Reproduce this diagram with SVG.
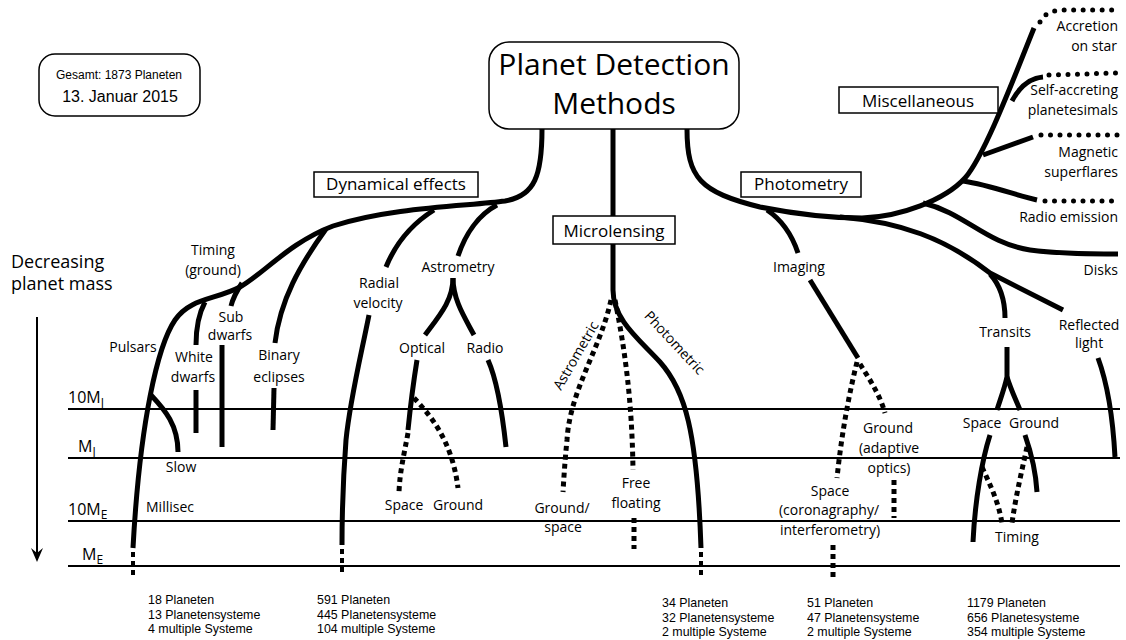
<svg xmlns="http://www.w3.org/2000/svg" width="1126" height="640" viewBox="0 0 1126 640">
<style>
  .br{fill:none;stroke:#000;stroke-width:5;stroke-linecap:butt}
  .sq{fill:none;stroke:#000;stroke-width:5;stroke-dasharray:5 4}
  .sm{fill:none;stroke:#000;stroke-width:4;stroke-dasharray:5 4}
  .rd{fill:none;stroke:#000;stroke-width:5;stroke-linecap:round;stroke-dasharray:0 9.5}
  .hl{stroke:#000;stroke-width:2}
  text{font-family:"Open Sans","Noto Sans",sans-serif;fill:#000}
  .l{font-size:14px;text-anchor:middle}
  .r{font-size:14px;text-anchor:end}
  .bx{font-size:17px;text-anchor:middle}
  .ax{font-size:16px}
  .ct{font-family:"Liberation Sans",Arial,sans-serif;font-size:12.4px}
  .box{fill:#fff;stroke:#000;stroke-width:1.5}
</style>
<rect width="1126" height="640" fill="#fff"/>

<g id="axes">
  <line class="hl" x1="68" y1="409" x2="1120" y2="409"/>
  <line class="hl" x1="68" y1="458" x2="1120" y2="458"/>
  <line class="hl" x1="68" y1="521" x2="1120" y2="521"/>
  <line class="hl" x1="68" y1="566" x2="1120" y2="566"/>
  <line x1="37" y1="317" x2="37" y2="556" stroke="#000" stroke-width="2"/>
  <path d="M31,548 L37,562 L43,548 L37,553 Z" fill="#000"/>
  <text class="ax" x="11" y="268" style="font-size:18px">Decreasing</text>
  <text class="ax" x="11" y="290" style="font-size:18px">planet mass</text>
  <text class="ax" x="68" y="403">10M<tspan dy="4" font-size="12">J</tspan></text>
  <text class="ax" x="78" y="452">M<tspan dy="4" font-size="12">J</tspan></text>
  <text class="ax" x="68" y="515">10M<tspan dy="4" font-size="12">E</tspan></text>
  <text class="ax" x="82" y="560">M<tspan dy="4" font-size="12">E</tspan></text>
</g>

<g id="connectors">
  <!-- Dynamical effects -->
  <path class="br" d="M542,129 C542,175 535,196 505,201 C470,206 390,207 333,226 C290,242 262,275 240,287 C215,300 190,298 175,320 C158,345 140,420 133,548"/>
  <path class="sm" d="M133,552 L133,579"/>
  <path class="br" d="M151,395 C165,410 178,425 178,452"/>
  <path class="br" d="M205,302 C198,315 196,328 196,345"/>
  <path class="br" d="M196,390 L196,433"/>
  <path class="br" d="M242,283 C236,292 233,298 231,306"/>
  <path class="br" d="M222,345 L222,447"/>
  <path class="br" d="M326,229 C300,265 280,300 275,343"/>
  <path class="br" d="M274,388 L273,430"/>
  <path class="br" d="M434,210 C410,225 395,245 386,267"/>
  <path class="br" d="M369,315 C360,360 350,400 346,440 C343,480 342,510 342,545"/>
  <path class="sm" d="M342,549 L342,573"/>
  <path class="br" d="M497,205 C478,215 465,235 458,256"/>
  <path class="br" d="M453,278 C453,300 440,315 425,335"/>
  <path class="br" d="M453,278 C453,300 465,318 474,335"/>
  <path class="br" d="M417,360 C413,385 410,410 408,430"/>
  <path class="sq" d="M408,433 C404,455 400,470 399,492"/>
  <path class="sq" d="M414,398 C430,415 452,440 458,488"/>
  <path class="br" d="M488,360 C497,380 502,410 506,447"/>
  <!-- Microlensing -->
  <path class="br" d="M613,129 L613,216"/>
  <path class="br" d="M613,244 L613,290 C613,320 640,340 660,362 C685,390 697,430 701,548"/>
  <path class="sm" d="M701,552 L701,579"/>
  <path class="sq" d="M611,300 C600,350 570,390 567,440 C565,460 564,475 563,492"/>
  <path class="sq" d="M615,300 C625,350 632,400 633,470"/>
  <path class="sq" d="M634,518 L634,549"/>
  <!-- Photometry -->
  <path class="br" d="M687,129 C687,178 700,192 760,207 C800,215 830,218 862,218 C900,217 945,200 965,178 C985,155 1015,75 1034,28"/>
  <path class="rd" d="M1040,22 Q1045,11 1062,10 L1118,10"/>
  <path class="br" d="M1012,101 C1020,86 1030,78 1043,77"/>
  <path class="rd" d="M1049,75 L1118,73"/>
  <path class="br" d="M983,155 L1033,137"/>
  <path class="rd" d="M1041,135 L1118,135"/>
  <path class="br" d="M963,181 C990,185 1015,195 1037,200"/>
  <path class="rd" d="M1045,201 L1118,201"/>
  <path class="br" d="M923,203 C965,213 985,243 1030,250 C1060,254 1090,254 1118,254"/>
  <path class="br" d="M840,217 C900,222 945,238 990,273 L1063,310"/>
  <path class="br" d="M990,274 C1000,285 1005,300 1005,318"/>
  <path class="br" d="M767,210 C785,222 793,238 798,253"/>
  <path class="br" d="M810,280 L858,358"/>
  <path class="sq" d="M857,362 C850,390 842,430 837,478"/>
  <path class="sq" d="M860,364 C870,380 880,395 885,413"/>
  <path class="sq" d="M894,480 L894,518"/>
  <path class="sq" d="M833,545 L833,577"/>
  <path class="br" d="M1007,347 L1007,377 C1004,390 1000,400 997,410"/>
  <path class="br" d="M1007,377 C1011,390 1016,400 1020,410"/>
  <path class="br" d="M990,435 C982,460 975,500 973,542"/>
  <path class="br" d="M1025,435 C1032,455 1036,475 1037,492"/>
  <path class="sq" d="M982,467 C990,485 998,500 1002,523"/>
  <path class="sq" d="M1027,447 C1022,470 1016,495 1012,523"/>
  <path class="br" d="M1098,358 C1108,385 1113,420 1115,457"/>
</g>

<g id="gesamt">
  <rect class="box" x="39" y="54" width="161" height="62" rx="16"/>
  <text x="119" y="79" text-anchor="middle" style="font-family:'Liberation Sans',Arial,sans-serif;font-size:12px">Gesamt: 1873 Planeten</text>
  <text x="120" y="102" text-anchor="middle" style="font-family:'Liberation Sans',Arial,sans-serif;font-size:16px">13. Januar 2015</text>
</g>
<g id="title">
  <rect class="box" x="489" y="42" width="250" height="87" rx="20"/>
  <text x="614" y="75" text-anchor="middle" style="font-size:30px">Planet Detection</text>
  <text x="614" y="114" text-anchor="middle" style="font-size:30px">Methods</text>
</g>
<g id="dynamical">
  <rect class="box" x="314" y="172" width="164" height="25"/>
  <text class="bx" x="396" y="190">Dynamical effects</text>
</g>
<g id="microlensing">
  <rect class="box" x="553" y="216" width="122" height="28"/>
  <text class="bx" x="614" y="237">Microlensing</text>
</g>
<g id="photometry">
  <rect class="box" x="741" y="172" width="120" height="25"/>
  <text class="bx" x="801" y="190">Photometry</text>
</g>
<g id="misc">
  <rect class="box" x="839" y="87" width="159" height="26"/>
  <text class="bx" x="918" y="107">Miscellaneous</text>
</g>

<g id="timing"><text class="l" x="213" y="255">Timing</text><text class="l" x="213" y="275">(ground)</text></g>
<g id="pulsars"><text class="l" x="133" y="352">Pulsars</text></g>
<g id="white"><text class="l" x="194" y="362">White</text><text class="l" x="193" y="382">dwarfs</text></g>
<g id="sub"><text class="l" x="231" y="322">Sub</text><text class="l" x="230" y="340">dwarfs</text></g>
<g id="binary"><text class="l" x="279" y="360">Binary</text><text class="l" x="279" y="382">eclipses</text></g>
<g id="slow"><text class="l" x="181" y="472">Slow</text></g>
<g id="millisec"><text class="l" x="170" y="512">Millisec</text></g>
<g id="radial"><text class="l" x="379" y="288">Radial</text><text class="l" x="378" y="308">velocity</text></g>
<g id="astrometry"><text class="l" x="458" y="272">Astrometry</text></g>
<g id="optical"><text class="l" x="422" y="353">Optical</text></g>
<g id="radio"><text class="l" x="485" y="353">Radio</text></g>
<g id="astro-space"><text class="l" x="404" y="510">Space</text></g>
<g id="astro-ground"><text class="l" x="458" y="510">Ground</text></g>
<g id="astrometric"><text class="l" x="580" y="358" transform="rotate(-60 580 358)">Astrometric</text></g>
<g id="photometric"><text class="l" x="671" y="346" transform="rotate(47 671 346)">Photometric</text></g>
<g id="groundspace"><text class="l" x="562" y="513">Ground/</text><text class="l" x="563" y="532">space</text></g>
<g id="free"><text class="l" x="636" y="488">Free</text><text class="l" x="636" y="508">floating</text></g>
<g id="imaging"><text class="l" x="799" y="272">Imaging</text></g>
<g id="img-ground"><text class="l" x="888" y="433">Ground</text><text class="l" x="889" y="453">(adaptive</text><text class="l" x="889" y="473">optics)</text></g>
<g id="img-space"><text class="l" x="830" y="496">Space</text><text class="l" x="829" y="515">(coronagraphy/</text><text class="l" x="830" y="535">interferometry)</text></g>
<g id="transits"><text class="l" x="1005" y="337">Transits</text></g>
<g id="tr-space"><text class="l" x="982" y="428">Space</text></g>
<g id="tr-ground"><text class="l" x="1034" y="428">Ground</text></g>
<g id="tr-timing"><text class="l" x="1017" y="542">Timing</text></g>
<g id="reflected"><text class="l" x="1089" y="330">Reflected</text><text class="l" x="1089" y="348">light</text></g>
<g id="disks"><text class="r" x="1118" y="275">Disks</text></g>
<g id="accretion"><text class="r" x="1118" y="31">Accretion</text><text class="r" x="1117" y="51">on star</text></g>
<g id="selfacc"><text class="r" x="1118" y="95">Self-accreting</text><text class="r" x="1118" y="115">planetesimals</text></g>
<g id="magnetic"><text class="r" x="1118" y="157">Magnetic</text><text class="r" x="1118" y="177">superflares</text></g>
<g id="radioem"><text class="r" x="1118" y="222">Radio emission</text></g>

<g id="counts">
  <text class="ct" x="148" y="604">18 Planeten</text>
  <text class="ct" x="148" y="619">13 Planetensysteme</text>
  <text class="ct" x="148" y="633">4 multiple Systeme</text>
  <text class="ct" x="317" y="604">591 Planeten</text>
  <text class="ct" x="317" y="619">445 Planetensysteme</text>
  <text class="ct" x="317" y="633">104 multiple Systeme</text>
  <text class="ct" x="662" y="607">34 Planeten</text>
  <text class="ct" x="662" y="622">32 Planetensysteme</text>
  <text class="ct" x="662" y="636">2 multiple Systeme</text>
  <text class="ct" x="807" y="607">51 Planeten</text>
  <text class="ct" x="807" y="622">47 Planetensysteme</text>
  <text class="ct" x="807" y="636">2 multiple Systeme</text>
  <text class="ct" x="967" y="607">1179 Planeten</text>
  <text class="ct" x="967" y="622">656 Planetesysteme</text>
  <text class="ct" x="967" y="636">354 multiple Systeme</text>
</g>
</svg>
